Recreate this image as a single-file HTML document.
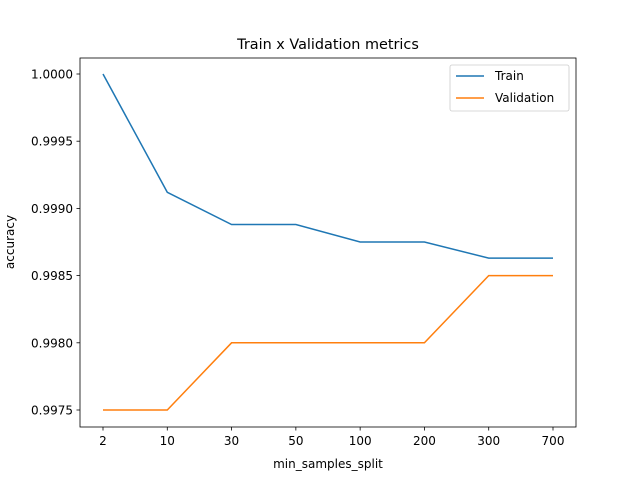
<!DOCTYPE html>
<html><head><meta charset="utf-8"><style>
body{margin:0;background:#fff;}
text{font-family:"DejaVu Sans","Liberation Sans",sans-serif;fill:#000;}
</style></head><body>
<svg id="chart" width="640" height="480" xmlns="http://www.w3.org/2000/svg">
<rect width="640" height="480" fill="#fff"/>
<text x="328" y="49" font-size="14.4" text-anchor="middle">Train x Validation metrics</text>
<g id="grid"></g>
<g id="lines"></g>
<rect x="80" y="58" width="496" height="369" fill="none" stroke="#000" stroke-width="0.8"/>
<text x="328" y="468" font-size="12" text-anchor="middle">min_samples_split</text>
<text transform="translate(14,242) rotate(-90)" font-size="12" text-anchor="middle">accuracy</text>
<g>
<rect x="450" y="65" width="119" height="46" rx="2" fill="#fff" stroke="#ccc" stroke-width="0.8"/>
<line x1="456" y1="76" x2="484" y2="76" stroke="#1f77b4" stroke-width="1.5"/>
<text x="495" y="80" font-size="12">Train</text>
<line x1="456" y1="98" x2="484" y2="98" stroke="#ff7f0e" stroke-width="1.5"/>
<text x="495" y="102" font-size="12">Validation</text>
</g>
</svg>
<script>
const categories=["2","10","30","50","100","200","300","700"];
const trainValues=[1.0,0.99912,0.99888,0.99888,0.99875,0.99875,0.99863,0.99863];
const validationValues=[0.9975,0.9975,0.998,0.998,0.998,0.998,0.9985,0.9985];
const yTicks=[0.9975,0.998,0.9985,0.999,0.9995,1.0];
const yTickLabels=["0.9975","0.9980","0.9985","0.9990","0.9995","1.0000"];
const NS="http://www.w3.org/2000/svg";
const svg=document.getElementById('chart');
const g=document.getElementById('grid');
const lg=document.getElementById('lines');
function xs(i){return 103+i*(553-103)/(categories.length-1);}
function ys(v){return 74+(1-v)*(410-74)/0.0025;}
function mk(t,a,p){const e=document.createElementNS(NS,t);for(const k in a)e.setAttribute(k,a[k]);(p||g).appendChild(e);return e;}
categories.forEach((c,i)=>{
 const t=mk('line',{x1:xs(i),x2:xs(i),y1:427,y2:430.5,stroke:'#000','stroke-width':0.8});
 
 
 const l=mk('text',{x:xs(i),y:445,'font-size':12,'text-anchor':'middle'});l.textContent=c;
 
 
});
yTicks.forEach((v,i)=>{
 const t=mk('line',{x1:76.5,x2:80,y1:ys(v),y2:ys(v),stroke:'#000','stroke-width':0.8});
 
 
 const l=mk('text',{x:73,y:ys(v)+4.5,'font-size':12,'text-anchor':'end'});l.textContent=yTickLabels[i];
 
 
});
function line(vals,color,name){
 const p=mk('polyline',{points:vals.map((v,i)=>xs(i)+','+ys(v)).join(' '),fill:'none',stroke:color,'stroke-width':1.5},lg);
 
 
}
line(trainValues,'#1f77b4','train-line');
line(validationValues,'#ff7f0e','validation-line');
</script>
</body></html>
